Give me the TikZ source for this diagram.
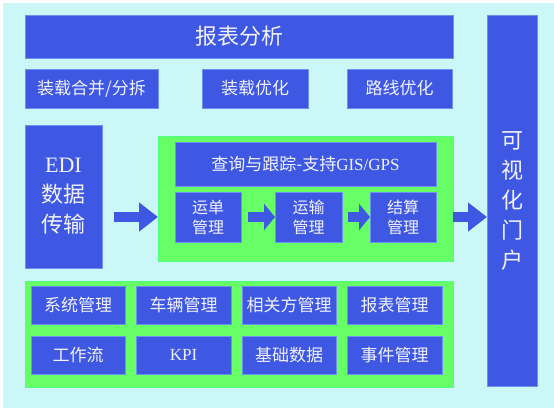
\documentclass[tikz,border=0pt]{standalone}
\usepackage{fontspec}
\setmainfont{Liberation Serif}
\newfontfamily\cjk{Noto Sans CJK SC}
\usetikzlibrary{arrows.meta}
\definecolor{bgcyan}{RGB}{204,247,248}
\definecolor{boxblue}{RGB}{62,88,228}
\definecolor{edgeblue}{RGB}{110,145,240}
\definecolor{panelgreen}{RGB}{102,255,102}
\definecolor{txt}{RGB}{242,242,252}
\begin{document}
\begin{tikzpicture}[x=1pt,y=-1pt,
  bluebox/.style={draw=edgeblue,line width=0.8pt,fill=boxblue,inner sep=0pt,outer sep=0pt,
    text=txt,align=center,font=\fontsize{17}{20}\cjk},
  greenpanel/.style={draw=panelgreen!80!cyan,line width=0.6pt,fill=panelgreen,inner sep=0pt,outer sep=0pt},
  bigarrow/.style={draw=boxblue,line width=10pt,-{Triangle[width=28pt,length=19pt]}},
  smallarrow/.style={draw=boxblue,line width=10.5pt,-{Triangle[width=26pt,length=11pt]}}
]
\useasboundingbox (0,0) rectangle (554,408);
\fill[white] (0,0) rectangle (554,408);
\fill[bgcyan] (3,3) rectangle (554,408);

% top
\node[bluebox,minimum width=428pt,minimum height=43pt,font=\fontsize{22}{26}\cjk] (title) at (239,36.5) {报表分析};
\node[bluebox,minimum width=133pt,minimum height=39pt] (merge) at (91.5,88.5) {装载合并/分拆};
\node[bluebox,minimum width=106pt,minimum height=39pt] (loadopt) at (255,88.5) {装载优化};
\node[bluebox,minimum width=105pt,minimum height=39pt] (routeopt) at (399.5,88.5) {路线优化};

% portal
\node[bluebox,minimum width=50pt,minimum height=371pt,font=\fontsize{22}{30}\cjk] (portal) at (512,200.5) {可\\视\\化\\门\\户};

% EDI
\node[bluebox,minimum width=77pt,minimum height=143pt,font=\fontsize{22}{30}\cjk] (edi) at (63.5,196.5) {{\rmfamily EDI}\\数据\\传输};

% middle panel
\node[greenpanel,minimum width=295pt,minimum height=125pt] (mid) at (305.5,198.5) {};
\node[bluebox,minimum width=261pt,minimum height=44pt] (query) at (305.5,164) {查询与跟踪-支持{\rmfamily GIS/GPS}};
\node[bluebox,minimum width=66pt,minimum height=50pt,font=\fontsize{16}{20}\cjk] (waybill) at (208,217) {运单\\管理};
\node[bluebox,minimum width=67pt,minimum height=50pt,font=\fontsize{16}{20}\cjk] (transport) at (308.5,217) {运输\\管理};
\node[bluebox,minimum width=66pt,minimum height=50pt,font=\fontsize{16}{20}\cjk] (settle) at (403,217) {结算\\管理};

% bottom panel
\node[greenpanel,minimum width=428pt,minimum height=106pt] (bottom) at (239,334) {};
\node[bluebox,minimum width=94pt,minimum height=38pt] (sys) at (78,305) {系统管理};
\node[bluebox,minimum width=95pt,minimum height=38pt] (veh) at (183.5,305) {车辆管理};
\node[bluebox,minimum width=94pt,minimum height=38pt] (party) at (289,305) {相关方管理};
\node[bluebox,minimum width=95pt,minimum height=38pt] (report) at (394.5,305) {报表管理};
\node[bluebox,minimum width=94pt,minimum height=38pt] (flow) at (78,355) {工作流};
\node[bluebox,minimum width=95pt,minimum height=38pt] (kpi) at (183.5,355) {{\rmfamily KPI}};
\node[bluebox,minimum width=94pt,minimum height=38pt] (basic) at (289,355) {基础数据};
\node[bluebox,minimum width=95pt,minimum height=38pt] (event) at (394.5,355) {事件管理};

% arrows
\draw[bigarrow,shorten <=12pt] (edi.east |- 0,217) -- (mid.west |- 0,217);
\draw[smallarrow,shorten <=7pt] (waybill.east) -- (transport.west);
\draw[smallarrow,shorten <=6pt] (transport.east) -- (settle.west);
\draw[bigarrow] (mid.east |- 0,217) -- (portal.west |- 0,217);
\end{tikzpicture}
\end{document}
